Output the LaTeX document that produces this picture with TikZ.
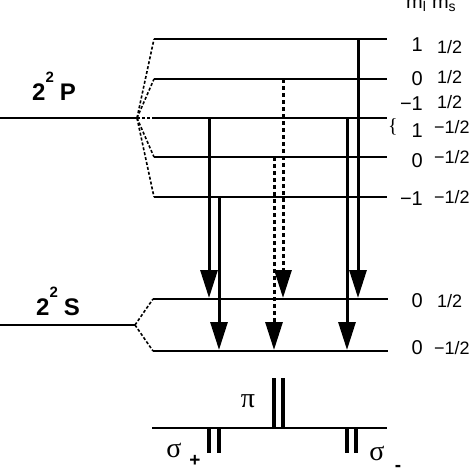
\documentclass[tikz,border=0pt]{standalone}
\usepackage{fontspec}
\setmainfont{Liberation Sans}
\newfontfamily\greekfont{Liberation Serif}
\usetikzlibrary{arrows.meta}

\tikzset{
  level/.style={line width=2.6pt},
  split/.style={line width=1.6pt, dash pattern=on 3pt off 2pt},
  trans/.style={line width=3pt, -{Triangle[length=28pt,width=17pt]}},
  pitrans/.style={trans, dash pattern=on 4pt off 3pt},
  bar/.style={line width=4.2pt},
  specline/.style={line width=2.6pt},
  mlnum/.style={anchor=base east, inner sep=0pt, font=\fontsize{20}{20}\selectfont},
  msnum/.style={anchor=base west, inner sep=0pt, font=\fontsize{18}{18}\selectfont},
  term/.style={anchor=base west, inner sep=0pt, font=\bfseries\fontsize{24}{24}\selectfont},
  greek/.style={inner sep=0pt, font=\greekfont\fontsize{28}{28}\selectfont},
  pol/.style={inner sep=0pt, font=\bfseries\fontsize{19}{19}\selectfont}
}

\begin{document}
\begin{tikzpicture}[x=1pt,y=-1pt]
  \useasboundingbox (0,0) rectangle (474,474);

  % 2P term, split into its Zeeman levels
  \coordinate (Pterm) at (0,118);
  \coordinate (Psplit) at (137,118);
  \draw[level] (Pterm) -- (Psplit);
  \foreach \n/\y in {1/39,2/79,3/118,4/157,5/197} {
    \coordinate (P\n) at (154,\y);
    \coordinate (Pe\n) at (387,\y);
    \draw[level] (P\n) -- (Pe\n);
    \draw[split] (Psplit) -- (P\n);
  }

  % 2S term
  \coordinate (Sterm) at (0,325);
  \coordinate (Ssplit) at (135,325);
  \draw[level] (Sterm) -- (Ssplit);
  \foreach \n/\y in {1/299,2/351} {
    \coordinate (S\n) at (153,\y);
    \coordinate (Se\n) at (388,\y);
    \draw[level] (S\n) -- (Se\n);
    \draw[split] (Ssplit) -- (S\n);
  }

  % transitions
  \coordinate (up1) at (209,118); \coordinate (lo1) at (209,298);
  \coordinate (up2) at (219,197); \coordinate (lo2) at (219,350);
  \coordinate (up3) at (283,79);  \coordinate (lo3) at (283,298);
  \coordinate (up4) at (274,157); \coordinate (lo4) at (274,350);
  \coordinate (up5) at (358,39);  \coordinate (lo5) at (358,298);
  \coordinate (up6) at (347,118); \coordinate (lo6) at (347,350);
  \draw[trans] (up1) -- (lo1);
  \draw[trans] (up2) -- (lo2);
  \draw[pitrans] (up3) -- (lo3);
  \draw[pitrans] (up4) -- (lo4);
  \draw[trans] (up5) -- (lo5);
  \draw[trans] (up6) -- (lo6);

  % term labels
  \node[term] (Plabel) at (32,100) {2\raisebox{18pt}{\fontsize{15}{15}\selectfont 2}\hspace{6pt}P};
  \node[term] (Slabel) at (36,315) {2\raisebox{18pt}{\fontsize{15}{15}\selectfont 2}\hspace{6pt}S};

  % quantum numbers
  \node[anchor=base west, inner sep=0pt, font=\fontsize{20}{20}\selectfont] (mhead) at (406,8)
    {m\textsubscript{l} m\textsubscript{s}};
  \node[mlnum] (ml1) at (423,51)  {1};
  \node[msnum] (ms1) at (437,53)  {1/2};
  \node[mlnum] (ml2) at (423,85)  {0};
  \node[msnum] (ms2) at (437,83)  {1/2};
  \node[mlnum] (ml3) at (423,110) {−1};
  \node[msnum] (ms3) at (437,108) {1/2};
  \node[mlnum] (ml4) at (423,137) {1};
  \node[msnum] (ms4) at (434,133) {−1/2};
  \node[mlnum] (ml5) at (423,167) {0};
  \node[msnum] (ms5) at (434,163) {−1/2};
  \node[mlnum] (ml6) at (423,205) {−1};
  \node[msnum] (ms6) at (434,203) {−1/2};
  \node[mlnum] (ml7) at (423,307) {0};
  \node[msnum] (ms7) at (437,307) {1/2};
  \node[mlnum] (ml8) at (423,354) {0};
  \node[msnum] (ms8) at (434,354) {−1/2};
  \node[inner sep=0pt, font=\greekfont\fontsize{20}{20}\selectfont] (brace) at (393,127) {\{};

  % spectrum
  \coordinate (spL) at (152,428);
  \coordinate (spR) at (387,428);
  \draw[specline] (spL) -- (spR);
  \foreach \x in {209,219,347,356} \draw[bar] (\x,428) -- (\x,453);
  \foreach \x in {274,283} \draw[bar] (\x,428) -- (\x,378);
  \node[greek] (pi) at (248,401) {π};
  \node[greek] (sigp) at (174,450) {σ};
  \node[pol] (plus) at (195,461) {+};
  \node[greek] (sigm) at (377,453) {σ};
  \node[pol] (minus) at (398,468) {-};
\end{tikzpicture}
\end{document}
